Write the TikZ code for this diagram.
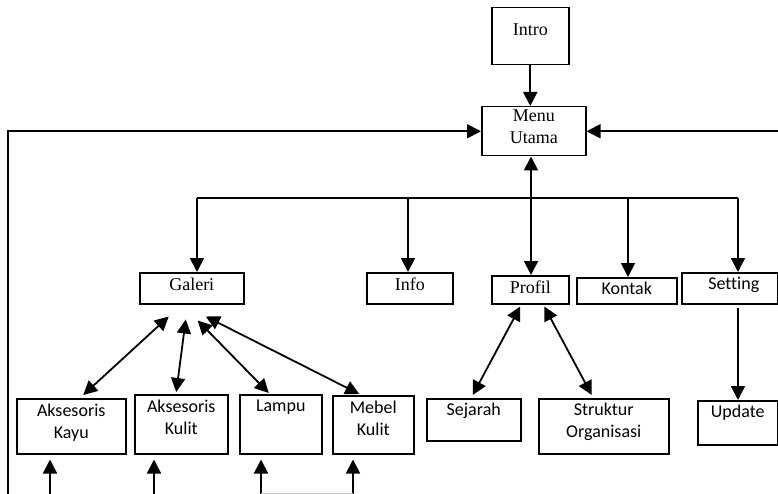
\documentclass[tikz,border=0pt]{standalone}
\usepackage{fontspec}
\setmainfont{Liberation Serif}
\newfontfamily\sansf[Ligatures=NoCommon]{Carlito}
\usetikzlibrary{arrows.meta}

\begin{document}
\begin{tikzpicture}[x=1pt,y=-1pt,
  box/.style={draw,line width=1.5pt,inner sep=0pt,anchor=north west},
  txt/.style={anchor=north,inner sep=0pt,align=center,font=\fontsize{18}{21.5}\selectfont},
  stxt/.style={anchor=north,inner sep=0pt,align=center,font=\fontsize{18}{22}\sansf},
  arr/.style={-{Triangle[length=14pt,width=14pt]},line width=1.8pt},
  darr/.style={{Triangle[length=14pt,width=14pt]}-{Triangle[length=14pt,width=14pt]},line width=1.8pt}]
\useasboundingbox (0,0) rectangle (778,494);

\node[box,minimum width=77pt,minimum height=57pt] (intro) at (491,7) {};
\node[box,minimum width=104pt,minimum height=49pt] (menu) at (481,106) {};
\node[box,minimum width=104pt,minimum height=31pt] (galeri) at (139,272) {};
\node[box,minimum width=86pt,minimum height=31pt] (info) at (366,272) {};
\node[box,minimum width=77pt,minimum height=28pt] (profil) at (491,275) {};
\node[box,minimum width=100pt,minimum height=26pt] (kontak) at (576,277) {};
\node[box,minimum width=96pt,minimum height=31pt] (setting) at (681,272) {};
\node[box,minimum width=109pt,minimum height=55pt] (kayu) at (16,398) {};
\node[box,minimum width=93pt,minimum height=59pt] (kulit) at (134,394) {};
\node[box,minimum width=82pt,minimum height=59pt] (lampu) at (239,394) {};
\node[box,minimum width=81pt,minimum height=58pt] (mebel) at (332,395) {};
\node[box,minimum width=94pt,minimum height=42pt] (sejarah) at (426,398) {};
\node[box,minimum width=130pt,minimum height=55pt] (struktur) at (538,398) {};
\node[box,minimum width=80pt,minimum height=44pt] (update) at (697,400) {};

\node[txt] (intro-t) at ([yshift=-17pt]intro.north) {Intro};
\node[txt] (menu-t) at ([yshift=-4pt]menu.north) {Menu\\Utama};
\node[txt] (galeri-t) at ([yshift=-6pt]galeri.north) {Galeri};
\node[txt] (info-t) at ([yshift=-6pt]info.north) {Info};
\node[txt] (profil-t) at ([yshift=-6pt]profil.north) {Profil};
\node[stxt] (kontak-t) at ([yshift=-5pt]kontak.north) {Kontak};
\node[stxt] (setting-t) at ([xshift=4pt,yshift=-5pt]setting.north) {Setting};
\node[stxt] (kayu-t) at ([yshift=-6pt]kayu.north) {Aksesoris\\Kayu};
\node[stxt] (kulit-t) at ([yshift=-6pt]kulit.north) {Aksesoris\\Kulit};
\node[stxt] (lampu-t) at ([yshift=-6pt]lampu.north) {Lampu};
\node[stxt] (mebel-t) at ([yshift=-6pt]mebel.north) {Mebel\\Kulit};
\node[stxt] (sejarah-t) at ([yshift=-5pt]sejarah.north) {Sejarah};
\node[stxt] (struktur-t) at ([yshift=-5pt]struktur.north) {Struktur\\Organisasi};
\node[stxt] (update-t) at ([yshift=-5pt]update.north) {Update};

\coordinate (kiri) at (8,494);
\coordinate (kanan) at (778,132);
\coordinate (bus-g) at (197,198);
\coordinate (bus-i) at (408,198);
\coordinate (bus-p) at (531,198);
\coordinate (bus-k) at (628,198);
\coordinate (bus-s) at (738,198);
\coordinate (bawah-1) at (50,494);
\coordinate (bawah-2) at (154,494);
\coordinate (bawah-3) at (261,494);
\coordinate (bawah-4) at (353,494);

\draw[arr] (intro.south) -- (intro.south |- menu.north);
\draw[arr] (kiri) |- (menu.west);
\draw[arr] (kanan |- menu.east) -- (menu.east);
\draw[line width=1.5pt] (bus-g) -- (bus-s);
\draw[arr] (bus-g) -- (bus-g |- galeri.north);
\draw[arr] (bus-i) -- (bus-i |- info.north);
\draw[darr] (bus-p |- menu.south) -- (bus-p |- profil.north);
\draw[arr] (bus-k) -- (bus-k |- kontak.north);
\draw[arr] (bus-s) -- (bus-s |- setting.north);
\draw[arr] ([yshift=-3pt]bus-s |- setting.south) -- (bus-s |- update.north);

\draw[darr] ([xshift=-23pt,yshift=-12pt]galeri.south) -- ([xshift=12pt,yshift=3pt]kayu.north);
\draw[darr] ([xshift=-6pt,yshift=-15pt]galeri.south) -- ([xshift=-5pt,yshift=2pt]kulit.north);
\draw[darr] ([xshift=6pt,yshift=-16pt]galeri.south) -- ([xshift=-12pt,yshift=1pt]lampu.north);
\draw[darr] ([xshift=14pt,yshift=-12pt]galeri.south) -- ([xshift=-14pt,yshift=1pt]mebel.north);
\draw[darr] ([xshift=-10pt,yshift=-2pt]profil.south) -- ([xshift=-1pt,yshift=3pt]sejarah.north);
\draw[darr] ([xshift=14pt,yshift=-2pt]profil.south) -- ([xshift=-12pt,yshift=3pt]struktur.north);

\draw[arr] (bawah-1) -- ([yshift=-5pt]bawah-1 |- kayu.south);
\draw[arr] (bawah-2) -- ([yshift=-5pt]bawah-2 |- kulit.south);
\draw[arr] (bawah-3) -- ([yshift=-5pt]bawah-3 |- lampu.south);
\draw[arr] (bawah-4) -- ([yshift=-5pt]bawah-4 |- mebel.south);
\draw[gray!40,line width=1pt] ([yshift=1pt]bawah-3) -- ([yshift=1pt]bawah-4);
\end{tikzpicture}
\end{document}
